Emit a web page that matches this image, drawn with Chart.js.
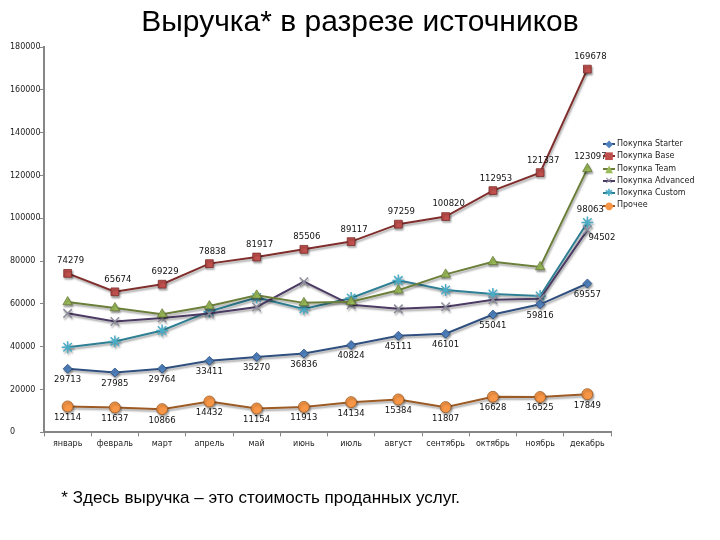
<!DOCTYPE html>
<html>
<head>
<meta charset="utf-8">
<script src="https://cdn.jsdelivr.net/npm/chart.js@4.4.0/dist/chart.umd.min.js"></script>
<style>
  body { margin: 0; background: #fff; }
  #wrap { position: relative; width: 720px; height: 540px; }
  #title { position: absolute; left: 0; top: 4px; width: 720px; text-align: center;
           font-family: "Liberation Sans", Arial, sans-serif; font-size: 30px; color: #000; }
  #note { position: absolute; right: 260px; top: 488px; white-space: nowrap;
          font-family: "Liberation Sans", Arial, sans-serif; font-size: 17px; color: #000; }
  #chartBox { position: absolute; left: 0; top: 0; width: 720px; height: 540px; }
  #legend { position: absolute; left: 602px; top: 138px; font-family: "DejaVu Sans", sans-serif;
            font-size: 8px; color: #222; line-height: 12.3px; }
  #legend .it { display: flex; align-items: center; white-space: nowrap; }
  #legend .ic { position: relative; width: 14px; height: 12px; margin-right: 1px; }
  #legend .ln { position: absolute; left: 1px; right: 1px; top: 5px; height: 2px; }
  #legend .mk { position: absolute; left: 0; width: 14px; top: -1px; text-align: center; font-size: 10px; line-height: 14px; }
</style>
</head>
<body>
<div id="wrap">
  <div id="chartBox"><canvas id="chart" width="720" height="540"></canvas></div>
  <div id="title">Выручка* в разрезе источников</div>
  <div id="legend"></div>
  <div id="note">* Здесь выручка – это стоимость проданных услуг.</div>
</div>
<script>
const months = ['январь', 'февраль', 'март', 'апрель', 'май', 'июнь', 'июль', 'август', 'сентябрь', 'октябрь', 'ноябрь', 'декабрь'];
const yTicks = [0, 20000, 40000, 60000, 80000, 100000, 120000, 140000, 160000, 180000];

const starter  = [29713, 27985, 29764, 33411, 35270, 36836, 40824, 45111, 46101, 55041, 59816, 69557];
const base     = [74279, 65674, 69229, 78838, 81917, 85506, 89117, 97259, 100820, 112953, 121337, 169678];
const team     = [60900, 58100, 55200, 59000, 64000, 60500, 61000, 66400, 73800, 79700, 77300, 123097];
const advanced = [55600, 51800, 53400, 55500, 58600, 70400, 59600, 57700, 58700, 62000, 62400, 94502];
const custom   = [39800, 42500, 47600, 56500, 63000, 57700, 62800, 71000, 66500, 64600, 63700, 98063];
const other    = [12114, 11637, 10866, 14432, 11154, 11913, 14134, 15384, 11807, 16628, 16525, 17849];

// which points get a value label, and where: 'above' | 'below' | 'right'
const labelsStarter  = Array(12).fill('below');
const labelsBase     = Array(12).fill('above');
const labelsOther    = Array(12).fill('below');
const labelsTeam     = [null, null, null, null, null, null, null, null, null, null, null, 'above'];
const labelsAdvanced = [null, null, null, null, null, null, null, null, null, null, null, 'right'];
const labelsCustom   = [null, null, null, null, null, null, null, null, null, null, null, 'above'];

const series = [
  { name: 'Покупка Starter',  data: starter,  color: '#4F81BD', line: '#2F4F7F', shape: 'rectRot',  r: 4.5, glyph: '◆', lab: labelsStarter },
  { name: 'Покупка Base',     data: base,     color: '#C0504D', line: '#7F2E2C', shape: 'rect',     r: 5.5, glyph: '■', lab: labelsBase },
  { name: 'Покупка Team',     data: team,     color: '#9BBB59', line: '#6B7F3A', shape: 'triangle', r: 5.5, glyph: '▲', lab: labelsTeam },
  { name: 'Покупка Advanced', data: advanced, color: '#8C8C9C', line: '#4B3A63', shape: 'crossRot', r: 6,   glyph: '✕', lab: labelsAdvanced },
  { name: 'Покупка Custom',   data: custom,   color: '#4BACC6', line: '#2E7F94', shape: 'star',     r: 6,   glyph: '✱', lab: labelsCustom },
  { name: 'Прочее',           data: other,    color: '#F79646', line: '#9C5A24', shape: 'circle',   r: 5.5, glyph: '●', lab: labelsOther }
];

const shadowPlugin = {
  id: 'shadow',
  beforeDatasetsDraw(chart) {
    const c = chart.ctx;
    c.save();
    c.shadowColor = 'rgba(0,0,0,0.35)';
    c.shadowOffsetX = 1;
    c.shadowOffsetY = 2;
    c.shadowBlur = 2;
  },
  afterDatasetsDraw(chart) {
    chart.ctx.restore();
  }
};

const valueLabels = {
  id: 'valueLabels',
  afterDatasetsDraw(chart) {
    const c = chart.ctx;
    c.save();
    c.font = '8.5px "DejaVu Sans", sans-serif';
    c.fillStyle = '#111';
    chart.data.datasets.forEach((ds, i) => {
      const meta = chart.getDatasetMeta(i);
      const lab = series[i].lab;
      meta.data.forEach((pt, j) => {
        const where = lab[j];
        if (!where) return;
        const txt = String(ds.data[j]);
        let x = pt.x, y = pt.y;
        if (where === 'above') { c.textAlign = 'center'; c.textBaseline = 'bottom'; x += 3; y -= 8; }
        if (where === 'below') { c.textAlign = 'center'; c.textBaseline = 'top'; y += 7; }
        if (where === 'right') { c.textAlign = 'left'; c.textBaseline = 'top'; x += 1; y += 3; }
        c.fillText(txt, x, y);
      });
    });
    c.restore();
  }
};

const chart = new Chart(document.getElementById('chart'), {
  type: 'line',
  data: {
    labels: months,
    datasets: series.map(s => ({
      label: s.name,
      data: s.data,
      borderColor: s.line,
      borderWidth: 2,
      backgroundColor: s.color,
      pointStyle: s.shape,
      pointRadius: s.r,
      pointBackgroundColor: s.color,
      pointBorderColor: s.shape === 'crossRot' || s.shape === 'star' ? s.color : s.line,
      pointBorderWidth: s.shape === 'crossRot' || s.shape === 'star' ? 1.5 : 0.8,
      tension: 0
    }))
  },
  options: {
    responsive: false,
    animation: false,
    layout: { padding: { left: 10, top: 47, right: 109, bottom: 88 } },
    plugins: {
      legend: { display: false },
      tooltip: { enabled: false }
    },
    scales: {
      x: {
        offset: true,
        grid: { display: true, offset: true, drawOnChartArea: false, drawTicks: true, tickLength: 4, color: '#868686' },
        border: { display: true, color: '#868686', width: 2 },
        ticks: { color: '#222', font: { family: '"DejaVu Sans", sans-serif', size: 8 }, padding: 3, maxRotation: 0, autoSkip: false }
      },
      y: {
        min: 0,
        max: 180000,
        afterBuildTicks: axis => { axis.ticks = yTicks.map(v => ({ value: v })); },
        afterFit: axis => { axis.width = 34; },
        grid: { display: true, drawOnChartArea: false, drawTicks: true, tickLength: 4, color: '#868686' },
        border: { display: true, color: '#868686', width: 2 },
        ticks: { color: '#222', font: { family: '"DejaVu Sans", sans-serif', size: 8 }, padding: 2,
                 crossAlign: 'far', callback: v => String(v) }
      }
    }
  },
  plugins: [shadowPlugin, valueLabels]
});

// legend
const legendEl = document.getElementById('legend');
series.forEach(s => {
  const it = document.createElement('div');
  it.className = 'it';
  it.innerHTML = '<span class="ic"><span class="ln" style="background:' + s.line + '"></span>' +
    '<span class="mk" style="color:' + s.color + '">' + s.glyph + '</span></span>' + s.name;
  legendEl.appendChild(it);
});
</script>
</body>
</html>
